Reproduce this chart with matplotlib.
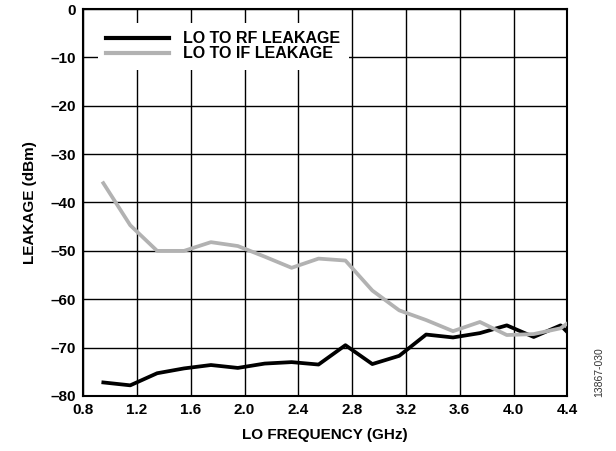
import matplotlib
matplotlib.use('Agg')
import matplotlib.pyplot as plt
import numpy as np

plt.rcParams['font.family'] = ['Liberation Sans', 'DejaVu Sans']

# LO frequency (GHz)
freq = [0.95, 1.15, 1.35, 1.55, 1.75, 1.95, 2.15, 2.35, 2.55, 2.75,
        2.95, 3.15, 3.35, 3.55, 3.75, 3.95, 4.15, 4.35, 4.4]

# leakage (dBm)
lo_rf = [-77.2, -77.8, -75.3, -74.3, -73.6, -74.2, -73.3, -73.0, -73.5, -69.5,
         -73.4, -71.7, -67.3, -67.9, -67.0, -65.4, -67.8, -65.4, -66.8]
lo_if = [-36.0, -44.7, -50.0, -50.0, -48.2, -49.0, -51.2, -53.5, -51.6, -52.0,
         -58.2, -62.3, -64.3, -66.6, -64.7, -67.4, -67.2, -66.0, -65.0]

x_ticks = [0.8, 1.2, 1.6, 2.0, 2.4, 2.8, 3.2, 3.6, 4.0, 4.4]
y_ticks = [0, -10, -20, -30, -40, -50, -60, -70, -80]

fig = plt.figure(figsize=(6.16, 4.51), dpi=100)
ax = fig.add_axes([0.135, 0.122, 0.786, 0.858])

ax.plot(freq, lo_rf, color='black', linewidth=2.7, label='LO TO RF LEAKAGE', zorder=3)
ax.plot(freq, lo_if, color='#b2b2b2', linewidth=2.7, label='LO TO IF LEAKAGE', zorder=3)

ax.set_xlim(0.8, 4.4)
ax.set_ylim(-80, 0)
ax.set_xticks(x_ticks)
ax.set_yticks(y_ticks)
ax.set_xticklabels([f'{v:.1f}' for v in x_ticks])
ax.set_yticklabels([str(v).replace('-', '\u2013') for v in y_ticks])
ax.tick_params(length=0, labelsize=11, pad=5)
for lbl in ax.get_xticklabels() + ax.get_yticklabels():
    lbl.set_fontweight('bold')

ax.grid(True, color='black', linewidth=1.0)
for s in ax.spines.values():
    s.set_linewidth(1.5)

ax.set_xlabel('LO FREQUENCY (GHz)', fontsize=11, fontweight='bold', labelpad=8)
ax.set_ylabel('LEAKAGE (dBm)', fontsize=11, fontweight='bold', labelpad=10)

leg = ax.legend(loc='upper left', bbox_to_anchor=(0.03, 0.965), borderaxespad=0,
                frameon=True, fancybox=False, framealpha=1, edgecolor='none',
                handlelength=3.9, handletextpad=0.9, labelspacing=0.0,
                borderpad=0.55, prop={'weight': 'bold', 'size': 11.5})
leg.set_zorder(5)
for line in leg.get_lines():
    line.set_linewidth(3.0)

fig.text(0.972, 0.12, '13867-030', rotation=90, fontsize=7.5, color='#333333',
         ha='center', va='bottom')

plt.savefig('out.png', dpi=100)
plt.close()
